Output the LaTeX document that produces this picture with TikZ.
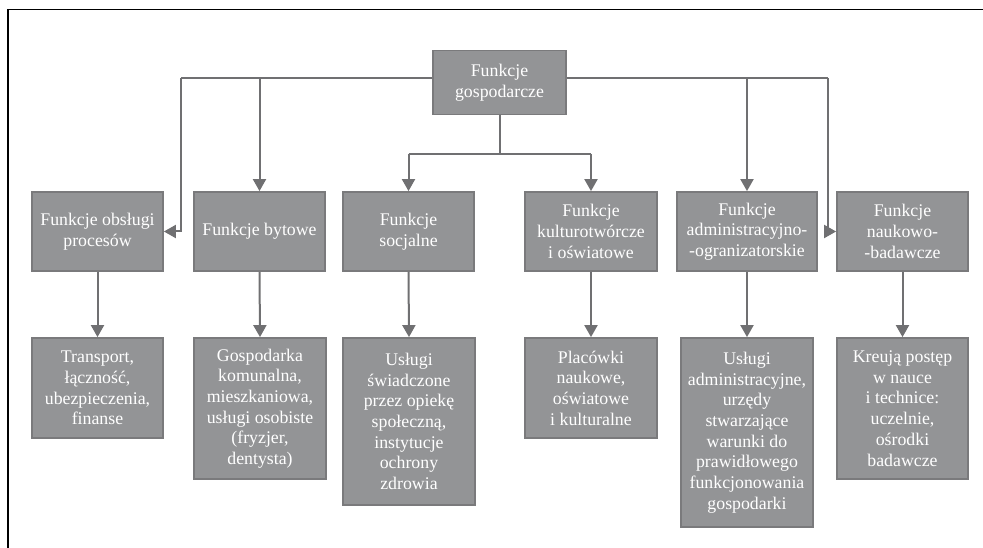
\documentclass[tikz,border=0pt]{standalone}
\usepackage{fontspec}
\setmainfont{Liberation Serif}
\usetikzlibrary{arrows.meta}
\definecolor{boxfill}{RGB}{147,148,150}
\definecolor{boxdraw}{RGB}{122,122,124}
\definecolor{linec}{RGB}{112,112,114}
\begin{document}
\begin{tikzpicture}[x=1pt,y=-1pt,
  fbox/.style={draw=boxdraw, fill=boxfill, line width=1.8pt, text=white, align=center,
    inner sep=0pt, font=\fontsize{17.8}{20.7}\selectfont},
  conn/.style={draw=linec, line width=2pt},
  arr/.style={conn, -{Triangle[length=12pt,width=13pt]}}]
\useasboundingbox (0,0) rectangle (983,548);
% frame
\draw[black, line width=1.8pt] (8,548) -- (8,9.5) -- (983,9.5);
% connector junctions
\coordinate (hl) at (181,78);
\coordinate (hr) at (828,78);
\coordinate (hm) at (499.5,154);
% nodes
\node[fbox, minimum width=133pt, minimum height=64pt] (top) at (499.5,82.5) {Funkcje\\gospodarcze};
\node[fbox, minimum width=131pt, minimum height=79pt] (m1) at (97.5,231.5) {Funkcje obsługi\\procesów};
\node[fbox, minimum width=131pt, minimum height=79pt] (m2) at (259.5,231.5) {Funkcje bytowe};
\node[fbox, minimum width=131pt, minimum height=79pt] (m3) at (408.5,231.5) {Funkcje\\socjalne};
\node[fbox, minimum width=132pt, minimum height=79pt] (m4) at (591,231.5) {Funkcje\\kulturotwórcze\\i oświatowe};
\node[fbox, minimum width=140pt, minimum height=79pt] (m5) at (747,231.5) {Funkcje\\administracyjno-\\-ogranizatorskie};
\node[fbox, minimum width=131pt, minimum height=79pt] (m6) at (902.5,231.5) {Funkcje\\naukowo-\\-badawcze};
\node[fbox, minimum width=131pt, minimum height=100pt] (b1) at (97.5,388) {Transport,\\łączność,\\ubezpieczenia,\\finanse};
\node[fbox, minimum width=132pt, minimum height=141pt] (b2) at (260,408.5) {Gospodarka\\komunalna,\\mieszkaniowa,\\usługi osobiste\\(fryzjer,\\dentysta)};
\node[fbox, minimum width=132pt, minimum height=167pt] (b3) at (409,421.5) {Usługi\\świadczone\\przez opiekę\\społeczną,\\instytucje\\ochrony\\zdrowia};
\node[fbox, minimum width=132pt, minimum height=100pt] (b4) at (591,388) {Placówki\\naukowe,\\oświatowe\\i kulturalne};
\node[fbox, minimum width=132pt, minimum height=189pt] (b5) at (747,432.5) {Usługi\\administracyjne,\\urzędy\\stwarzające\\warunki do\\prawidłowego\\funkcjonowania\\gospodarki};
\node[fbox, minimum width=131pt, minimum height=141pt] (b6) at (902.5,408.5) {Kreują postęp\\w nauce\\i technice:\\uczelnie,\\ośrodki\\badawcze};
% top-level connectors
\draw[conn] (top.west |- hl) -- (hl);
\draw[conn] (top.east |- hr) -- (hr);
\draw[arr] (hl) |- (m1.east);
\draw[arr] (m2.north |- hl) -- (m2.north);
\draw[arr] (m5.north |- hr) -- (m5.north);
\draw[arr] (hr) |- (m6.west);
\draw[conn] (top.south) -- (hm);
\draw[conn] (m3.north |- hm) -- (m4.north |- hm);
\draw[arr] (m3.north |- hm) -- (m3.north);
\draw[arr] (m4.north |- hm) -- (m4.north);
% second-level connectors
\draw[arr] (m1.south) -- (b1.north);
\draw[arr] (m2.south) -- (b2.north);
\draw[arr] (m3.south) -- (b3.north);
\draw[arr] (m4.south) -- (b4.north);
\draw[arr] (m5.south) -- (b5.north);
\draw[arr] (m6.south) -- (b6.north);
\end{tikzpicture}
\end{document}
